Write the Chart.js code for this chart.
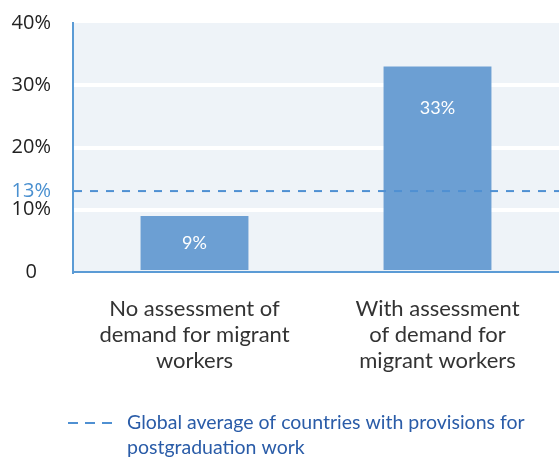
<!DOCTYPE html>
<html>
<head>
<meta charset="utf-8">
<script src="https://cdn.jsdelivr.net/npm/chart.js@4.4.1/dist/chart.umd.min.js"></script>
<style>
  html, body { margin: 0; padding: 0; background: #ffffff; }
  #wrap { width: 559px; height: 458px; position: relative; }
</style>
</head>
<body>
<div id="wrap"><canvas id="chart"></canvas></div>
<script>
// Category labels (one array entry per line of text)
const categories = [
  ['No assessment of', 'demand for migrant', 'workers'],
  ['With assessment', 'of demand for', 'migrant workers']
];
// Share of countries with provisions for postgraduation work (%)
const shares = [9, 33];
// Global average reference line (%)
const globalAverage = 13;
// Y-axis tick values (%)
const yTicks = [0, 10, 13, 20, 30, 40];
// Legend text for the reference line
const legendLines = ['Global average of countries with provisions for', 'postgraduation work'];

const BAR_COLOR = '#6c9fd3';
const AXIS_COLOR = '#5b9bd5';
const DASH_COLOR = '#4f90d2';
const PLOT_BG = '#eef3f8';
const LEGEND_TEXT = '#2a5ca8';

const plotBackground = {
  id: 'plotBackground',
  beforeDraw(chart) {
    const { ctx, chartArea: a } = chart;
    ctx.save();
    ctx.fillStyle = PLOT_BG;
    ctx.fillRect(a.left, a.top, a.right - a.left, a.bottom - a.top);
    ctx.restore();
  }
};

const averageLine = {
  id: 'averageLine',
  afterDatasetsDraw(chart) {
    const { ctx, chartArea: a, scales } = chart;
    const y = scales.y.getPixelForValue(globalAverage);
    ctx.save();
    ctx.strokeStyle = DASH_COLOR;
    ctx.lineWidth = 2;
    ctx.setLineDash([8, 8]);
    ctx.beginPath();
    ctx.moveTo(a.left + 1, y);
    ctx.lineTo(a.right, y);
    ctx.stroke();
    ctx.restore();
  }
};

const barValueLabels = {
  id: 'barValueLabels',
  afterDatasetsDraw(chart) {
    const { ctx } = chart;
    const meta = chart.getDatasetMeta(0);
    ctx.save();
    ctx.fillStyle = '#ffffff';
    ctx.font = '18px Lato';
    ctx.textAlign = 'center';
    ctx.textBaseline = 'middle';
    meta.data.forEach((bar, i) => {
      const y = Math.min(bar.y + 42, (bar.y + bar.base) / 2);
      ctx.fillText(shares[i] + '%', bar.x, y);
    });
    ctx.restore();
  }
};

const dashLegend = {
  id: 'dashLegend',
  afterDraw(chart) {
    const { ctx } = chart;
    const y0 = 423;
    ctx.save();
    ctx.strokeStyle = DASH_COLOR;
    ctx.lineWidth = 2;
    ctx.setLineDash([10, 7]);
    ctx.beginPath();
    ctx.moveTo(68, y0);
    ctx.lineTo(112, y0);
    ctx.stroke();
    ctx.setLineDash([]);
    ctx.fillStyle = LEGEND_TEXT;
    ctx.font = '19.5px Lato';
    ctx.textAlign = 'left';
    ctx.textBaseline = 'middle';
    legendLines.forEach((line, i) => ctx.fillText(line, 127, y0 + i * 25));
    ctx.restore();
  }
};

new Chart(document.getElementById('chart'), {
  type: 'bar',
  data: {
    labels: categories,
    datasets: [{
      data: shares,
      backgroundColor: BAR_COLOR,
      borderWidth: 0,
      barPercentage: 0.444,
      categoryPercentage: 1
    }]
  },
  options: {
    responsive: true,
    maintainAspectRatio: false,
    animation: false,
    devicePixelRatio: 1,
    layout: { padding: { top: 23, left: 0, right: 0, bottom: 80 } },
    plugins: {
      legend: { display: false },
      tooltip: { enabled: false }
    },
    scales: {
      x: {
        grid: { display: false, drawTicks: false },
        border: { display: true, color: AXIS_COLOR, width: 2 },
        ticks: {
          color: '#333333',
          font: { family: 'Lato', size: 22, lineHeight: '26px' },
          padding: 24,
          maxRotation: 0,
          autoSkip: false
        },
        afterFit(scale) { scale.height = 106; }
      },
      y: {
        min: 0,
        max: 40,
        afterBuildTicks(scale) { scale.ticks = yTicks.map(v => ({ value: v })); },
        grid: {
          drawTicks: false,
          lineWidth: 4,
          color: (c) => [10, 20, 30].includes(c.tick && c.tick.value) ? '#ffffff' : 'rgba(0,0,0,0)'
        },
        border: { display: true, color: AXIS_COLOR, width: 2 },
        ticks: {
          autoSkip: false,
          crossAlign: 'center',
          padding: 22,
          font: { family: 'Open Sans', size: 20 },
          color: (c) => c.tick.value === globalAverage ? '#4a90d0' : '#222222',
          callback: (v) => v === 0 ? '0' : v + '%'
        },
        afterFit(scale) {
          scale.width = 73;
          scale.paddingTop = 0;
          scale.paddingBottom = 0;
        }
      }
    }
  },
  plugins: [plotBackground, averageLine, barValueLabels, dashLegend]
});
</script>
</body>
</html>
